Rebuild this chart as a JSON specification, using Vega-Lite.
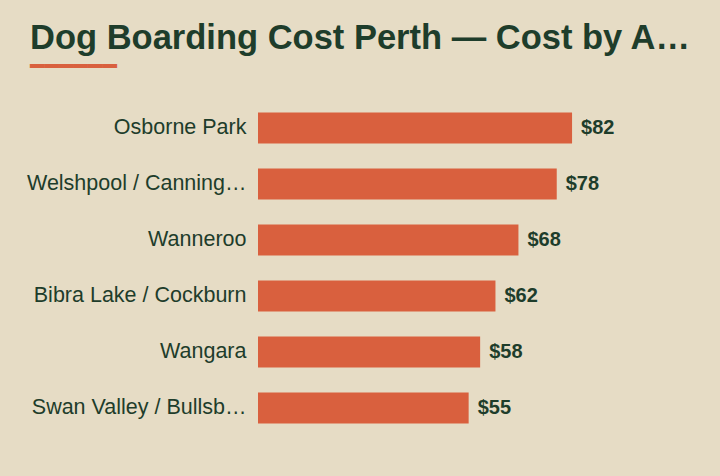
{
  "$schema": "https://vega.github.io/schema/vega-lite/v6.json",
  "width": 383,
  "height": 336,
  "autosize": "none",
  "padding": {"left": 258, "top": 100, "right": 79, "bottom": 40},
  "background": "#e6dcc5",
  "title": {
    "text": "Dog Boarding Cost Perth — Cost by Area",
    "subtitle": "━━━━━━",
    "anchor": "start",
    "frame": "group",
    "dx": -228,
    "offset": 20,
    "font": "Liberation Sans",
    "fontSize": 34.5,
    "fontWeight": "bold",
    "color": "#1e3d2b",
    "limit": 665,
    "subtitleFont": "DejaVu Sans",
    "subtitleFontSize": 24,
    "subtitleColor": "#d9603e",
    "subtitlePadding": -1
  },
  "data": {
    "values": [
      {"area": "Osborne Park", "cost": 82},
      {"area": "Welshpool / Canning Vale", "cost": 78},
      {"area": "Wanneroo", "cost": 68},
      {"area": "Bibra Lake / Cockburn", "cost": 62},
      {"area": "Wangara", "cost": 58},
      {"area": "Swan Valley / Bullsbrook", "cost": 55}
    ]
  },
  "encoding": {
    "y": {
      "field": "area",
      "type": "nominal",
      "sort": null,
      "title": null,
      "scale": {"paddingInner": 0.45, "paddingOuter": 0.225},
      "axis": {
        "domain": false,
        "ticks": false,
        "labelPadding": 12,
        "labelFont": "Liberation Sans",
        "labelFontSize": 21.5,
        "labelColor": "#1e3d2b",
        "labelLimit": 220
      }
    },
    "x": {
      "field": "cost",
      "type": "quantitative",
      "scale": {"domain": [0, 100]},
      "axis": null
    }
  },
  "layer": [
    {"mark": {"type": "bar", "color": "#d9603e"}},
    {
      "mark": {
        "type": "text",
        "align": "left",
        "dx": 9,
        "font": "Liberation Sans",
        "fontSize": 20,
        "fontWeight": "bold",
        "color": "#1e3d2b"
      },
      "encoding": {"text": {"field": "cost", "type": "quantitative", "format": "$.0f"}}
    }
  ],
  "config": {"view": {"stroke": null}}
}
